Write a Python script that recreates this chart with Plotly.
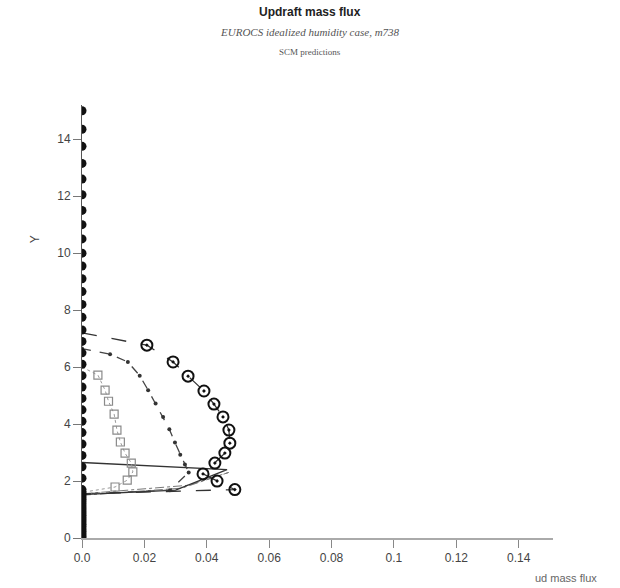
import plotly.graph_objects as go

# ---- data ----
# filled black circles (values zero at all levels)
filled_y = [round(i * 0.08, 2) for i in range(21)] + [1.7, 2.1, 2.5, 2.9, 3.3, 3.7, 4.1, 4.5, 4.9, 5.3, 5.7, 6.1, 6.5, 6.9, 7.3,
            7.75, 8.2, 8.65, 9.1, 9.55, 10.0, 10.5, 11.0, 11.5, 12.05, 12.6, 13.15, 13.75, 14.35, 15.0]
filled_x = [0.0] * len(filled_y)

# open circles, long-dash line
circ_x = [0.0, 0.0208, 0.0292, 0.0340, 0.0391, 0.0423, 0.0452, 0.0471, 0.0474, 0.0458, 0.0426, 0.0388, 0.0433, 0.0490, 0.0]
circ_y = [7.2, 6.77, 6.18, 5.68, 5.16, 4.70, 4.25, 3.79, 3.33, 2.98, 2.63, 2.25, 2.0, 1.70, 1.55]
circ_marked = [False] + [True] * 13 + [False]

# small dark dots, dashed line
dot_x = [0.0, 0.0090, 0.0147, 0.0185, 0.0212, 0.0236, 0.0260, 0.0280, 0.0298, 0.0315, 0.0330, 0.0342, 0.0282, 0.0]
dot_y = [6.65, 6.45, 6.18, 5.70, 5.19, 4.72, 4.25, 3.82, 3.35, 2.92, 2.58, 2.30, 1.68, 1.55]

# open squares, light grey dotted line
sq_x = [0.0, 0.0051, 0.0074, 0.0085, 0.0103, 0.0112, 0.0123, 0.0138, 0.0158, 0.0163, 0.0145, 0.0106, 0.0]
sq_y = [6.0, 5.72, 5.19, 4.80, 4.35, 3.79, 3.37, 2.98, 2.63, 2.32, 2.03, 1.79, 1.6]

# solid line (no markers)
sol_x = [0.0, 0.0200, 0.0465, 0.0300, 0.0]
sol_y = [2.65, 2.55, 2.40, 1.68, 1.52]

# thin grey dash-dot line
dd_x = [0.0, 0.0320, 0.0470, 0.0340, 0.0]
dd_y = [1.50, 1.75, 2.30, 1.85, 1.55]

x_ticks = [0.0, 0.02, 0.04, 0.06, 0.08, 0.1, 0.12, 0.14]
x_tick_labels = ["0.0", "0.02", "0.04", "0.06", "0.08", "0.1", "0.12", "0.14"]
y_ticks = [0, 2, 4, 6, 8, 10, 12, 14]

fig = go.Figure()

fig.add_trace(go.Scatter(x=dd_x, y=dd_y, mode="lines",
                         line=dict(color="#777777", width=1, dash="dashdot")))
fig.add_trace(go.Scatter(x=sol_x, y=sol_y, mode="lines",
                         line=dict(color="#333333", width=1.3)))
fig.add_trace(go.Scatter(x=sq_x, y=sq_y, mode="lines",
                         line=dict(color="#9a9a9a", width=1, dash="dot")))
fig.add_trace(go.Scatter(x=sq_x[1:-1], y=sq_y[1:-1], mode="markers",
                         marker=dict(symbol="square-open", size=8, color="#8a8a8a", line=dict(width=1.2))))
fig.add_trace(go.Scatter(x=dot_x, y=dot_y, mode="lines+markers",
                         line=dict(color="#444444", width=1.3, dash="dash"),
                         marker=dict(symbol="circle", size=4, color="#333333")))
fig.add_trace(go.Scatter(x=circ_x, y=circ_y, mode="lines",
                         line=dict(color="#333333", width=1.3, dash="longdash")))
fig.add_trace(go.Scatter(x=[x for x, m in zip(circ_x, circ_marked) if m],
                         y=[y for y, m in zip(circ_y, circ_marked) if m], mode="markers",
                         marker=dict(symbol="circle-dot", size=11, color="rgba(0,0,0,0)",
                                     line=dict(color="#111111", width=2))))
fig.add_trace(go.Scatter(x=filled_x, y=filled_y, mode="markers",
                         marker=dict(symbol="circle", size=9, color="#111111")))

fig.update_layout(
    width=620, height=588,
    margin=dict(l=82, r=67, t=105, b=50),
    paper_bgcolor="white", plot_bgcolor="white",
    showlegend=False,
    font=dict(family="Liberation Sans, Arial", size=12, color="#333333"),
    xaxis=dict(range=[0, 0.151], tickvals=x_ticks, ticktext=x_tick_labels,
               showgrid=False, zeroline=False, showline=True, linecolor="#aaaaaa", linewidth=2,
               ticks="outside", ticklen=8, tickcolor="#888888", tickwidth=1,
               tickfont=dict(size=12, color="#444444")),
    yaxis=dict(range=[0, 15.2], tickvals=y_ticks,
               showgrid=False, zeroline=False, showline=True, linecolor="#555555", linewidth=1,
               ticks="outside", ticklen=8, tickcolor="#777777", tickwidth=1,
               tickfont=dict(size=12, color="#444444")),
    annotations=[
        dict(text="<b>Updraft mass flux</b>", x=0.484, y=1.2148, xref="paper", yref="paper",
             xanchor="center", yanchor="middle",
             showarrow=False, font=dict(family="Liberation Sans, Arial", size=12, color="#222222")),
        dict(text="<i>EUROCS idealized humidity case, m738</i>", x=0.484, y=1.1686, xref="paper", yref="paper",
             xanchor="center", yanchor="middle",
             showarrow=False, font=dict(family="Liberation Serif, Times New Roman", size=11, color="#555555")),
        dict(text="SCM predictions", x=0.484, y=1.1224, xref="paper", yref="paper",
             xanchor="center", yanchor="middle",
             showarrow=False, font=dict(family="Liberation Serif, Times New Roman", size=9, color="#555555")),
        dict(text="Y", x=-0.1, y=0.69, xref="paper", yref="paper", textangle=-90,
             xanchor="center", yanchor="middle",
             showarrow=False, font=dict(family="Liberation Sans, Arial", size=12, color="#444444")),
        dict(text="ud mass flux", x=1.027, y=-0.092, xref="paper", yref="paper",
             xanchor="center", yanchor="middle",
             showarrow=False, font=dict(family="Liberation Sans, Arial", size=11, color="#666666")),
    ],
)

fig.write_html("out.html")
